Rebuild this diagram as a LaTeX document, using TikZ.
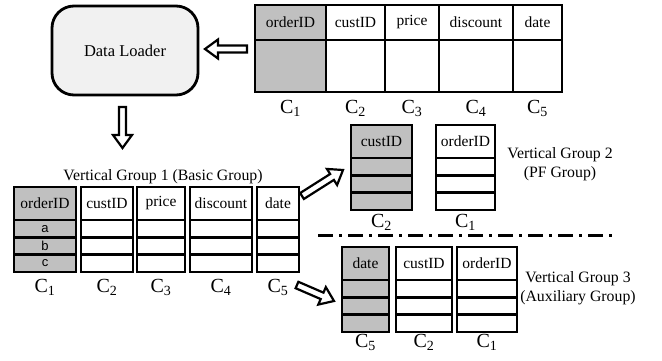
\documentclass[tikz,border=0pt]{standalone}
\usepackage{fontspec}
\setmainfont{Liberation Serif}
\newfontfamily\sansf{Liberation Sans}
\usetikzlibrary{calc}

\definecolor{cellgray}{RGB}{192,192,192}
\definecolor{loaderfill}{RGB}{241,241,241}

\tikzset{
  cell/.style={draw, line width=2.6pt, inner sep=0pt, outer sep=0pt,
    anchor=north west, font=\fontsize{15.5}{18}\selectfont},
  rowcell/.style={cell, minimum height=17.33pt, font=\sansf\fontsize{13}{14}\selectfont},
  headcell/.style={cell, minimum height=33pt},
  clabel/.style={anchor=base, inner sep=0pt, font=\fontsize{20}{22}\selectfont},
  grouplabel/.style={align=center, inner sep=0pt, font=\fontsize{15.8}{19.5}\selectfont},
  arrowline/.style={draw, fill=white, line width=2.2pt, line join=miter},
}

% one stand-alone column: name, x, width, top, fill, header, three row texts
\newcommand\groupcol[9]{%
  \node[headcell, fill=#5, minimum width=#3pt] (#1h) at (#2,#4) {#6};
  \node[rowcell, fill=#5, minimum width=#3pt] (#1r1) at (#1h.south west) {#7};
  \node[rowcell, fill=#5, minimum width=#3pt] (#1r2) at (#1r1.south west) {#8};
  \node[rowcell, fill=#5, minimum width=#3pt] (#1r3) at (#1r2.south west) {#9};
}

% hollow block arrow from a tail coordinate to a tip coordinate
\newcommand\hollowarrow[2]{%
  \coordinate (#1-base) at ($(#2)!13pt!(#1)$);
  \path[arrowline]
    ($(#1)!3.5pt!90:(#2)$) -- ($(#1-base)!3.5pt!90:(#2)$)
    -- ($(#1-base)!9.5pt!90:(#2)$) -- (#2)
    -- ($(#1-base)!9.5pt!-90:(#2)$) -- ($(#1-base)!3.5pt!-90:(#2)$)
    -- ($(#1)!3.5pt!-90:(#2)$) -- cycle;
}

\begin{document}
\begin{tikzpicture}[x=1pt,y=-1pt]
\useasboundingbox (0,0) rectangle (662,360);

% data loader
\node[draw, line width=2.8pt, fill=loaderfill, rounded corners=22pt,
  minimum width=146pt, minimum height=89pt, inner sep=0pt,
  font=\fontsize{16.5}{19}\selectfont] (loader) at (125,50.5) {Data Loader};

% source table
\node[cell, fill=cellgray, minimum width=71pt, minimum height=35pt] (t1h) at (255,5) {orderID};
\node[cell, minimum width=59pt, minimum height=35pt] (t2h) at (326,5) {custID};
\node[cell, minimum width=54pt, minimum height=35pt] (t3h) at (385,5) {price};
\node[cell, minimum width=74pt, minimum height=35pt] (t4h) at (439,5) {discount};
\node[cell, minimum width=49pt, minimum height=35pt] (t5h) at (513,5) {date};
\node[cell, fill=cellgray, minimum width=71pt, minimum height=52pt] (t1b) at (t1h.south west) {};
\node[cell, minimum width=59pt, minimum height=52pt] (t2b) at (t2h.south west) {};
\node[cell, minimum width=54pt, minimum height=52pt] (t3b) at (t3h.south west) {};
\node[cell, minimum width=74pt, minimum height=52pt] (t4b) at (t4h.south west) {};
\node[cell, minimum width=49pt, minimum height=52pt] (t5b) at (t5h.south west) {};
\node[clabel] (tc1) at (290.5,113) {C\textsubscript{1}};
\node[clabel] (tc2) at (355.5,113) {C\textsubscript{2}};
\node[clabel] (tc3) at (412,113) {C\textsubscript{3}};
\node[clabel] (tc4) at (476,113) {C\textsubscript{4}};
\node[clabel] (tc5) at (537.5,113) {C\textsubscript{5}};

% vertical group 1
\node[grouplabel] (g1lab) at (163,177) {Vertical Group 1 (Basic Group)};
\groupcol{ga}{14}{62}{187}{cellgray}{orderID}{a}{b}{c}
\groupcol{gb}{81}{52}{187}{white}{custID}{}{}{}
\groupcol{gc}{137}{48}{187}{white}{price}{}{}{}
\groupcol{gd}{190}{62}{187}{white}{discount}{}{}{}
\groupcol{ge}{257}{42}{187}{white}{date}{}{}{}
\node[clabel] (g1c1) at (45,292) {C\textsubscript{1}};
\node[clabel] (g1c2) at (107,292) {C\textsubscript{2}};
\node[clabel] (g1c3) at (161,292) {C\textsubscript{3}};
\node[clabel] (g1c4) at (221,292) {C\textsubscript{4}};
\node[clabel] (g1c5) at (278,292) {C\textsubscript{5}};

% vertical group 2
\groupcol{pa}{351}{61}{125}{cellgray}{custID}{}{}{}
\groupcol{pb}{436}{59}{125}{white}{orderID}{}{}{}
\node[clabel] (g2c2) at (381.5,227) {C\textsubscript{2}};
\node[clabel] (g2c1) at (465.5,227) {C\textsubscript{1}};
\node[grouplabel] (g2lab) at (560,164) {Vertical Group 2\\(PF Group)};

% separator
\draw[line width=3pt, dash pattern=on 15pt off 6pt on 3pt off 6pt]
  (318,235) coordinate (sepl) -- (617,235) coordinate (sepr);

% vertical group 3
\groupcol{xa}{342}{47}{247}{cellgray}{date}{}{}{}
\groupcol{xb}{396}{56}{247}{white}{custID}{}{}{}
\groupcol{xc}{457}{60}{247}{white}{orderID}{}{}{}
\node[clabel] (g3c5) at (365.5,347) {C\textsubscript{5}};
\node[clabel] (g3c2) at (424,347) {C\textsubscript{2}};
\node[clabel] (g3c1) at (487,347) {C\textsubscript{1}};
\node[grouplabel] (g3lab) at (578,288) {Vertical Group 3\\(Auxiliary Group)};

% block arrows
\coordinate (inT) at (247,49);
\coordinate (inH) at (205,49);
\hollowarrow{inT}{inH}
\coordinate (dnT) at (122.5,107);
\coordinate (dnH) at (122.5,148);
\hollowarrow{dnT}{dnH}
\coordinate (upT) at (302,196);
\coordinate (upH) at (343,170);
\hollowarrow{upT}{upH}
\coordinate (loT) at (297,285);
\coordinate (loH) at (334,301);
\hollowarrow{loT}{loH}
\end{tikzpicture}
\end{document}
